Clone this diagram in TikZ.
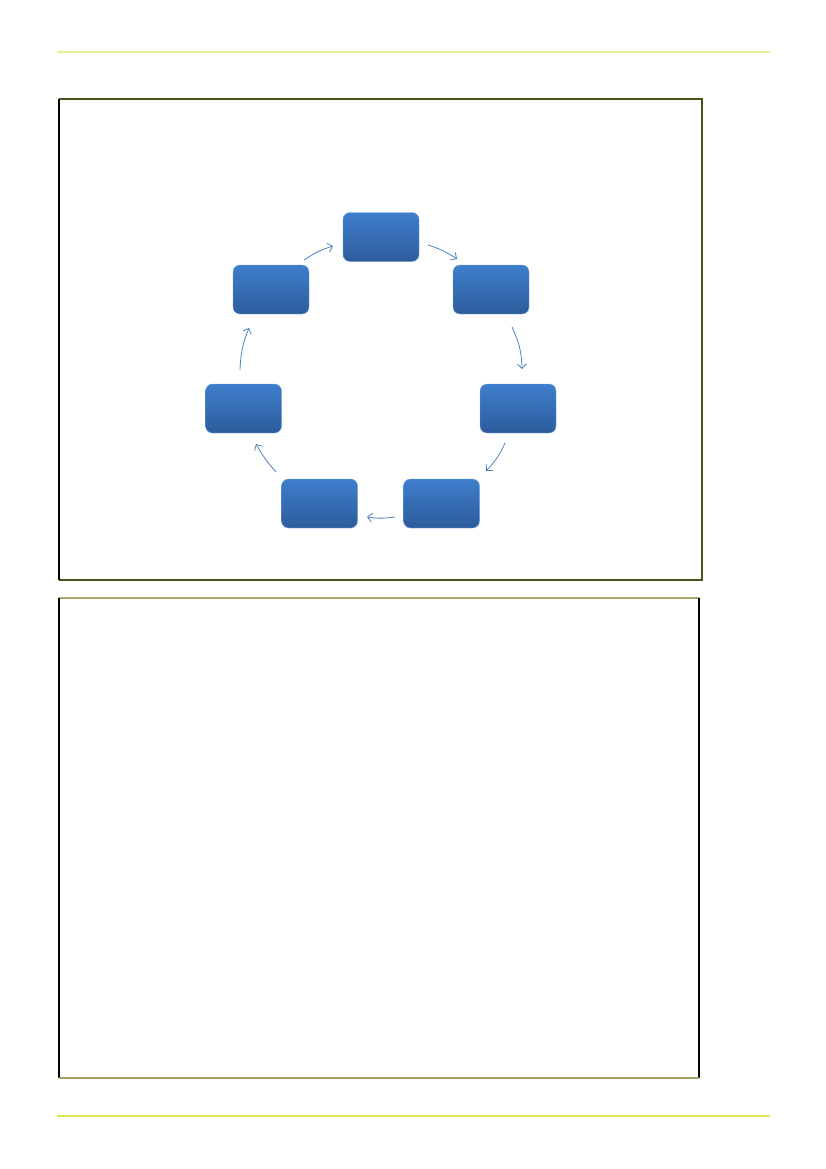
\documentclass[tikz,border=0pt]{standalone}
\usetikzlibrary{arrows.meta}
\definecolor{boxtop}{RGB}{62,126,204}
\definecolor{boxbot}{RGB}{45,92,156}
\definecolor{arrowblue}{RGB}{79,129,189}
\definecolor{darkolive}{RGB}{80,80,26}
\definecolor{lightolive}{RGB}{170,168,110}
\definecolor{midolive}{RGB}{165,160,100}
\definecolor{ytop}{RGB}{228,240,150}
\definecolor{ybot}{RGB}{220,232,80}
\tikzset{
  x=1pt,y=1pt,
  cyclebox/.style={rectangle, rounded corners=7pt, minimum width=76pt, minimum height=49pt,
    inner sep=0pt, top color=boxtop, bottom color=boxbot, draw=boxtop!70!white, line width=0.4pt},
  cyclearrow/.style={draw=arrowblue, line width=0.8pt, -{Straight Barb[length=4.5pt,width=9pt]}, bend left=8},
  rule/.style={line width=2pt},
}
\begin{document}
\begin{tikzpicture}
\useasboundingbox (0,0) rectangle (826,-1169);
% header / footer rules
\draw[rule, ytop] (57,-52) coordinate (hl) -- (770,-52) coordinate (hr);
\draw[rule, ybot] (57,-1116) coordinate (fl) -- (770,-1116) coordinate (fr);
% frame 1
\coordinate (f1tl) at (59,-99);
\coordinate (f1tr) at (702,-99);
\coordinate (f1br) at (702,-580);
\coordinate (f1bl) at (59,-580);
\draw[line width=1.2pt, darkolive] (f1tl) -- (f1tr) -- (f1br) -- (f1bl);
\draw[line width=1.2pt, black] (f1tl) -- (f1bl);
% frame 2
\coordinate (f2tl) at (59,-598);
\coordinate (f2tr) at (699,-598);
\coordinate (f2br) at (699,-1078);
\coordinate (f2bl) at (59,-1078);
\draw[line width=1.2pt, lightolive] (f2tl) -- (f2tr);
\draw[line width=1.2pt, black] (f2tl) -- (f2bl);
\draw[line width=1.2pt, black] (f2tr) -- (f2br);
\draw[line width=2pt, midolive] (f2bl) -- (f2br);
% cycle boxes
\node[cyclebox] (t)  at (381,-237) {};
\node[cyclebox] (ur) at (491,-289.5) {};
\node[cyclebox] (r)  at (518,-408.5) {};
\node[cyclebox] (br) at (441.5,-503.5) {};
\node[cyclebox] (bl) at (319.5,-503.5) {};
\node[cyclebox] (l)  at (243.5,-408.5) {};
\node[cyclebox] (ul) at (271,-289.5) {};
% arrows
\draw[cyclearrow] ([shift={(47,-8)}]t.center) to ([shift={(-34,30.5)}]ur.center);
\draw[cyclearrow, bend left=12] ([shift={(21,-37.5)}]ur.center) to ([shift={(4,39.5)}]r.center);
\draw[cyclearrow, bend left=10] ([shift={(-13,-34.5)}]r.center) to ([shift={(44.5,32.5)}]br.center);
\draw[cyclearrow] ([shift={(-46.5,-13.5)}]br.center) to ([shift={(47.5,-13.5)}]bl.center);
\draw[cyclearrow, bend left=6] ([shift={(-43.5,31.5)}]bl.center) to ([shift={(12.5,-35.5)}]l.center);
\draw[cyclearrow, bend left=10] ([shift={(-3.5,38.5)}]l.center) to ([shift={(-22,-38.5)}]ul.center);
\draw[cyclearrow] ([shift={(33,29.5)}]ul.center) to ([shift={(-48,-9)}]t.center);
\end{tikzpicture}
\end{document}
